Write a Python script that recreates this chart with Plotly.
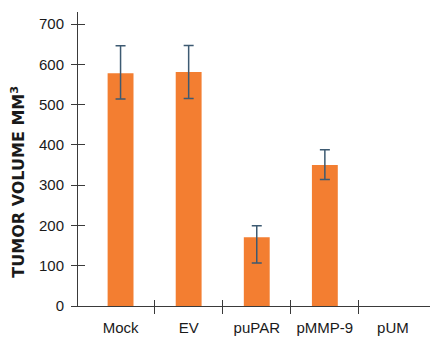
import plotly.graph_objects as go

categories = ["Mock", "EV", "puPAR", "pMMP-9", "pUM"]
tumor_volume = [578, 581, 171, 350, None]
err_plus = [68, 66, 28, 38, None]
err_minus = [64, 66, 64, 36, None]
y_ticks = [0, 100, 200, 300, 400, 500, 600, 700]

x_pos = list(range(len(categories)))
boundaries = [i + 0.5 for i in range(len(categories) - 1)]

bar_color = "#F37E31"
err_color = "#3D5A72"
axis_color = "#3a3a3a"
tick_font = dict(family="Liberation Sans, Arial, sans-serif", size=15, color="#1a1a1a")

x_range = [-0.625, 4.544]
y_range = [0, 730]

fig = go.Figure()
fig.add_trace(go.Bar(
    x=x_pos, y=tumor_volume, width=0.38,
    marker=dict(color=bar_color, line=dict(width=0)),
    error_y=dict(type="data", symmetric=False, array=err_plus, arrayminus=err_minus,
                 color=err_color, thickness=1.5, width=5),
    showlegend=False, hoverinfo="skip",
))
fig.add_trace(go.Scatter(x=[None], y=[None], xaxis="x2", yaxis="y2", showlegend=False, hoverinfo="skip"))
fig.add_trace(go.Scatter(x=[None], y=[None], xaxis="x3", yaxis="y", showlegend=False, hoverinfo="skip"))

common = dict(showgrid=False, zeroline=False, automargin=False)

fig.update_layout(
    width=430, height=337,
    margin=dict(l=78, r=0, t=12, b=31, autoexpand=False),
    paper_bgcolor="white", plot_bgcolor="white",
    xaxis=dict(
        range=x_range, tickmode="array", tickvals=x_pos, ticktext=categories,
        ticks="", showline=True, linecolor=axis_color, linewidth=1,
        tickfont=tick_font, ticklabelstandoff=8, **common,
    ),
    xaxis2=dict(
        overlaying="x", anchor="y", side="bottom", range=x_range,
        tickmode="array", tickvals=boundaries,
        ticks="outside", ticklen=7, tickcolor=axis_color, tickwidth=1,
        showline=False, showticklabels=False, **common,
    ),
    xaxis3=dict(
        overlaying="x", anchor="y", side="bottom", range=x_range,
        tickmode="array", tickvals=boundaries,
        ticks="inside", ticklen=6, tickcolor=axis_color, tickwidth=1,
        showline=False, showticklabels=False, **common,
    ),
    yaxis=dict(
        range=y_range, tickmode="array", tickvals=y_ticks,
        ticks="outside", ticklen=6, tickcolor=axis_color, tickwidth=1,
        showline=True, linecolor=axis_color, linewidth=1,
        tickfont=tick_font, ticklabelstandoff=4, **common,
    ),
    yaxis2=dict(
        overlaying="y", anchor="x", side="left", range=y_range,
        tickmode="array", tickvals=y_ticks,
        ticks="inside", ticklen=7, tickcolor=axis_color, tickwidth=1,
        showline=False, showticklabels=False, **common,
    ),
    annotations=[dict(
        text="TUMOR VOLUME MM<sup>3</sup>", textangle=-90,
        xref="paper", yref="paper", x=-0.170, y=0.4235,
        xanchor="center", yanchor="middle", showarrow=False,
        font=dict(family="DejaVu Sans", size=16, color="#1a1a1a", weight="bold"),
    )],
)

fig.write_html("out.html", config={"displayModeBar": False},
               post_script="document.body.style.margin='0';")
